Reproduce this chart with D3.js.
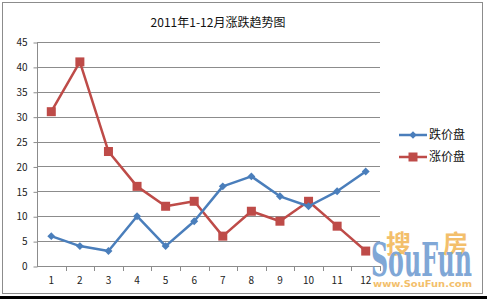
<!DOCTYPE html>
<html>
<head>
<meta charset="utf-8">
<script src="https://cdn.jsdelivr.net/npm/d3@7"></script>
<style>
  body { margin: 0; background: #000; }
  svg { display: block; }
</style>
</head>
<body>
<script>
// 月份 1-12
const months = ["1","2","3","4","5","6","7","8","9","10","11","12"];
// 跌价盘
const fallValues = [6, 4, 3, 10, 4, 9, 16, 18, 14, 12, 15, 19];
// 涨价盘
const riseValues = [31, 41, 23, 16, 12, 13, 6, 11, 9, 13, 8, 3];
const yTicks = [0, 5, 10, 15, 20, 25, 30, 35, 40, 45];

const W = 487, H = 299;
const font = "'Noto Sans CJK SC', 'DejaVu Sans', sans-serif";

const svg = d3.select("body").append("svg")
    .attr("width", W)
    .attr("height", H);

// 背景和边框
svg.append("rect").attr("x", 0).attr("y", 0).attr("width", W).attr("height", 296).attr("fill", "#fff");
svg.append("rect").attr("x", 2.5).attr("y", 2.5).attr("width", 480).attr("height", 291)
    .attr("fill", "none").attr("stroke", "#8c8c8c").attr("stroke-width", 1);

// 标题
svg.append("text")
    .attr("x", 218).attr("y", 27)
    .attr("text-anchor", "middle")
    .style("font-family", font).style("font-size", "12px").attr("fill", "#111")
    .text("2011年1-12月涨跌趋势图");

const x = d3.scaleBand().domain(months).range([37, 380]);
const y = d3.scaleLinear().domain([0, 45]).range([266, 42]);
const cx = d => x(d) + x.bandwidth() / 2;

// 网格线
svg.append("g").selectAll("line")
    .data(yTicks.filter(t => t > 0))
    .join("line")
    .attr("x1", 37).attr("x2", 380)
    .attr("y1", d => Math.round(y(d)) + 0.5).attr("y2", d => Math.round(y(d)) + 0.5)
    .attr("stroke", "#8c8c8c").attr("stroke-width", 1);

// Y 轴
const yAxis = svg.append("g")
    .attr("transform", "translate(37.5,0.5)")
    .call(d3.axisLeft(y).tickValues(yTicks).tickSize(4).tickPadding(6));
yAxis.select(".domain").attr("stroke", "#8c8c8c").attr("d", "M0," + y(45) + "V" + y(0));
yAxis.selectAll(".tick line").attr("stroke", "#8c8c8c");
yAxis.selectAll("text").style("font-family", font).style("font-size", "10px").attr("fill", "#222");

// X 轴
const xAxis = svg.append("g")
    .attr("transform", "translate(0," + (Math.round(y(0)) + 0.5) + ")")
    .call(d3.axisBottom(x).tickSize(0).tickPadding(10));
xAxis.select(".domain").attr("stroke", "#8c8c8c").attr("d", "M37,0H380");
xAxis.selectAll("text").style("font-family", font).style("font-size", "10px").attr("fill", "#222");
// 分类之间的刻度
svg.append("g").selectAll("line")
    .data(months)
    .join("line")
    .attr("x1", d => Math.round(x(d) + x.bandwidth()) + 0.5)
    .attr("x2", d => Math.round(x(d) + x.bandwidth()) + 0.5)
    .attr("y1", y(0)).attr("y2", y(0) + 5)
    .attr("stroke", "#8c8c8c");

const blue = "#4a7ebb", red = "#be4b48";
const line = d3.line().x((d, i) => cx(months[i])).y(d => y(d));

// 涨价盘
svg.append("path").datum(riseValues)
    .attr("fill", "none").attr("stroke", red).attr("stroke-width", 2.5)
    .attr("stroke-linejoin", "round").attr("d", line);
svg.append("g").selectAll("rect")
    .data(riseValues)
    .join("rect")
    .attr("x", (d, i) => cx(months[i]) - 4.5).attr("y", d => y(d) - 4.5)
    .attr("width", 9).attr("height", 9)
    .attr("fill", red);

// 跌价盘
svg.append("path").datum(fallValues)
    .attr("fill", "none").attr("stroke", blue).attr("stroke-width", 2.5)
    .attr("stroke-linejoin", "round").attr("d", line);
svg.append("g").selectAll("path")
    .data(fallValues)
    .join("path")
    .attr("transform", (d, i) => "translate(" + cx(months[i]) + "," + y(d) + ")")
    .attr("d", d3.symbol(d3.symbolDiamond2, 40))
    .attr("fill", blue);

// 图例
const legend = [
  { name: "跌价盘", color: blue, shape: "diamond" },
  { name: "涨价盘", color: red, shape: "square" }
];
const lg = svg.append("g").selectAll("g")
    .data(legend)
    .join("g")
    .attr("transform", (d, i) => "translate(399," + (135 + i * 22) + ")");
lg.append("line").attr("x1", 0).attr("x2", 28).attr("stroke", d => d.color).attr("stroke-width", 2.5);
lg.append("path")
    .attr("transform", "translate(14,0)")
    .attr("d", d => d.shape === "diamond" ? d3.symbol(d3.symbolDiamond2, 36)() : "M-4.5,-4.5h9v9h-9z")
    .attr("fill", d => d.color);
lg.append("text")
    .attr("x", 30).attr("y", 4)
    .style("font-family", font).style("font-size", "12px").attr("fill", "#111")
    .text(d => d.name);

// 水印
const wm = svg.append("g").attr("opacity", 0.85);
wm.append("text").attr("x", 386).attr("y", 253)
    .style("font-family", font).style("font-size", "25px").style("font-weight", "bold")
    .attr("fill", "#f2b552").text("搜");
wm.append("text").attr("x", 443).attr("y", 253)
    .style("font-family", font).style("font-size", "25px").style("font-weight", "bold")
    .attr("fill", "#f2b552").text("房");
wm.append("text").attr("x", 371).attr("y", 276)
    .style("font-family", "'DejaVu Serif', 'Liberation Serif', serif").style("font-size", "46px")
    .style("font-weight", "bold").attr("textLength", 101).attr("lengthAdjust", "spacingAndGlyphs")
    .attr("fill", "#6a98cf").text("SouFun");
wm.append("text").attr("x", 373).attr("y", 287)
    .style("font-family", "'DejaVu Sans', sans-serif").style("font-size", "9px").style("font-weight", "bold")
    .attr("textLength", 99).attr("lengthAdjust", "spacingAndGlyphs")
    .attr("fill", "#f2b552").text("www.SouFun.com");
</script>
</body>
</html>
